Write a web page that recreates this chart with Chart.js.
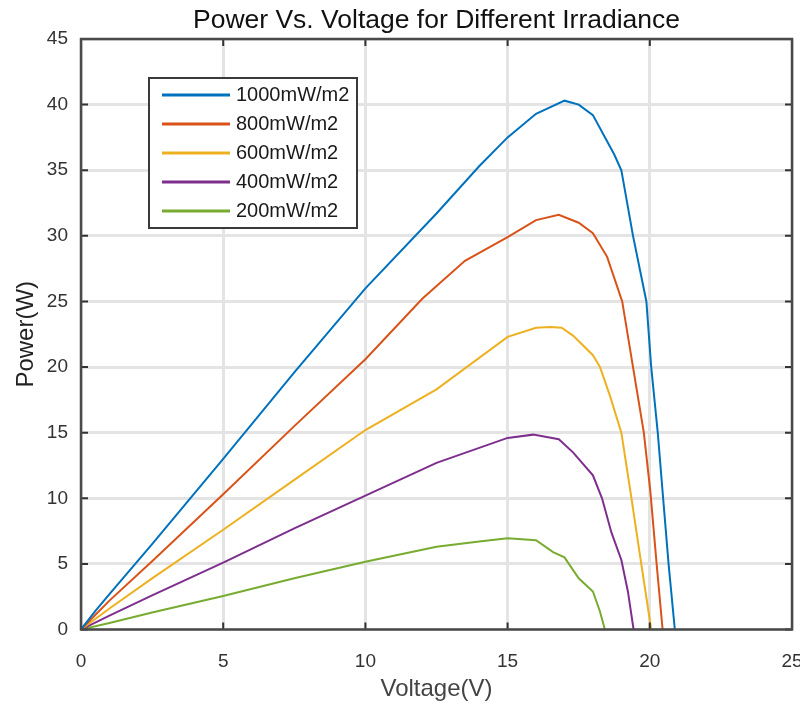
<!DOCTYPE html>
<html>
<head>
<meta charset="utf-8">
<script src="https://cdn.jsdelivr.net/npm/chart.js@4.4.0/dist/chart.umd.min.js"></script>
<style>
    html, body { margin: 0; padding: 0; background: #fff; }
    #wrap { width: 800px; height: 706px; }
</style>
</head>
<body>
<div id="wrap"><canvas id="pvChart" width="800" height="706"></canvas></div>
<script>
// Values (voltage in V, power in W)
const v1000 = [0, 0.5, 1, 2.5, 5, 7.5, 10, 12.5, 14, 15, 16, 17, 17.5, 18, 18.45, 18.75, 19, 19.41, 19.88, 20.05, 20.28, 20.45, 20.66, 20.88];
const p1000 = [0, 1.4, 2.7, 6.5, 13.0, 19.6, 26.0, 31.7, 35.3, 37.5, 39.3, 40.3, 40.0, 39.2, 37.4, 36.2, 35.0, 30.0, 25.0, 20.0, 15.0, 10.5, 5.0, 0];

const v800 = [0, 0.5, 1, 2.5, 5, 7.5, 10, 12, 13.5, 15, 16, 16.8, 17.5, 18, 18.5, 19.03, 19.41, 19.79, 20.02, 20.24, 20.45];
const p800 = [0, 1.1, 2.2, 5.2, 10.3, 15.5, 20.6, 25.2, 28.1, 29.9, 31.2, 31.6, 31.0, 30.2, 28.4, 25.0, 20.0, 15.0, 10.5, 5.0, 0];

const v600 = [0, 1, 2.5, 5, 7.5, 10, 12.5, 15, 16, 16.5, 16.9, 17.3, 18, 18.25, 18.6, 19, 19.32, 19.7, 20.05];
const p600 = [0, 1.6, 3.9, 7.6, 11.4, 15.2, 18.3, 22.3, 23.0, 23.05, 23.0, 22.4, 20.9, 20.0, 17.8, 15.0, 10.5, 5.0, 0];

const v400 = [0, 1, 2.5, 5, 7.5, 10, 12.5, 15, 15.9, 16.8, 17.3, 18, 18.32, 18.65, 19, 19.23, 19.43];
const p400 = [0, 1.05, 2.6, 5.1, 7.7, 10.2, 12.7, 14.6, 14.85, 14.5, 13.5, 11.75, 10.0, 7.4, 5.3, 2.9, 0];

const v200 = [0, 1, 2.5, 5, 7.5, 10, 12.5, 14, 15, 16, 16.6, 17, 17.5, 18, 18.25, 18.42];
const p200 = [0, 0.5, 1.3, 2.55, 3.9, 5.17, 6.3, 6.7, 6.95, 6.8, 5.9, 5.5, 3.9, 2.9, 1.35, 0];

const seriesLabels = ['1000mW/m2', '800mW/m2', '600mW/m2', '400mW/m2', '200mW/m2'];
const seriesColors = ['#0072BD', '#D95319', '#EDB120', '#7E2F8E', '#77AC30'];
const xTicks = [0, 5, 10, 15, 20, 25];
const yTicks = [0, 5, 10, 15, 20, 25, 30, 35, 40, 45];
const chartTitle = 'Power Vs. Voltage for Different Irradiance';

const voltages = [v1000, v800, v600, v400, v200];
const powers = [p1000, p800, p600, p400, p200];

const fontFamily = "'Liberation Sans', Arial, sans-serif";
const textColor = '#333333';

// Build datasets from the arrays
const datasets = seriesLabels.map((label, i) => ({
    label: label,
    data: voltages[i].map((v, k) => ({ x: v, y: powers[i][k] })),
    borderColor: seriesColors[i],
    backgroundColor: seriesColors[i],
    borderWidth: 2,
    fill: false,
    tension: 0,
    pointRadius: 0
}));

// Title, box, inward ticks and legend in MATLAB style
const matlabBox = {
    id: 'matlabBox',
    afterDatasetsDraw(chart) {
        const { ctx, chartArea: a, scales } = chart;
        const xs = scales.x, ys = scales.y;
        ctx.save();

        // title centred over the plot area
        ctx.fillStyle = '#111111';
        ctx.font = '26.5px ' + fontFamily;
        ctx.textAlign = 'center';
        ctx.textBaseline = 'middle';
        ctx.fillText(chartTitle, (a.left + a.right) / 2, 21);

        // tick marks pointing inward on all four sides
        ctx.strokeStyle = '#333333';
        ctx.lineWidth = 2;
        ctx.beginPath();
        xTicks.forEach(t => {
            const px = xs.getPixelForValue(t);
            ctx.moveTo(px, a.bottom); ctx.lineTo(px, a.bottom - 7);
            ctx.moveTo(px, a.top); ctx.lineTo(px, a.top + 7);
        });
        yTicks.forEach(t => {
            const py = ys.getPixelForValue(t);
            ctx.moveTo(a.left, py); ctx.lineTo(a.left + 7, py);
            ctx.moveTo(a.right, py); ctx.lineTo(a.right - 7, py);
        });
        ctx.stroke();

        // axes box
        ctx.strokeStyle = '#4a4a4a';
        ctx.lineWidth = 2.5;
        ctx.strokeRect(a.left, a.top, a.right - a.left, a.bottom - a.top);

        // legend
        const lx = 149, ly = 78, lw = 208, lh = 150;
        ctx.fillStyle = '#ffffff';
        ctx.fillRect(lx, ly, lw, lh);
        ctx.strokeStyle = '#3a3a3a';
        ctx.lineWidth = 2;
        ctx.strokeRect(lx, ly, lw, lh);
        ctx.font = '20px ' + fontFamily;
        ctx.textBaseline = 'middle';
        ctx.textAlign = 'left';
        seriesLabels.forEach((label, i) => {
            const rowY = ly + 17 + i * 29;
            ctx.strokeStyle = seriesColors[i];
            ctx.lineWidth = 3;
            ctx.beginPath();
            ctx.moveTo(lx + 13, rowY);
            ctx.lineTo(lx + 81, rowY);
            ctx.stroke();
            ctx.fillStyle = '#1a1a1a';
            ctx.fillText(label, lx + 87, rowY);
        });

        ctx.restore();
    }
};

const pvChart = new Chart(document.getElementById('pvChart').getContext('2d'), {
    type: 'line',
    data: { datasets: datasets },
    options: {
        responsive: false,
        animation: false,
        layout: { padding: { left: 0, right: 8, top: 39, bottom: 0 } },
        plugins: {
            legend: { display: false },
            tooltip: { enabled: false },
            title: { display: false }
        },
        scales: {
            x: {
                type: 'linear',
                min: 0,
                max: 25,
                afterBuildTicks: s => { s.ticks = xTicks.map(v => ({ value: v })); },
                afterFit: s => { s.height = 76.5; s.paddingLeft = 0; s.paddingRight = 0; },
                grid: { color: '#e4e4e4', lineWidth: 3, drawTicks: false },
                border: { display: false },
                ticks: {
                    color: textColor,
                    padding: 21,
                    maxRotation: 0,
                    font: { family: fontFamily, size: 19 }
                },
                title: {
                    display: true,
                    text: 'Voltage(V)',
                    color: '#444444',
                    font: { family: fontFamily, size: 24 },
                    padding: { top: 0, bottom: 2 }
                }
            },
            y: {
                type: 'linear',
                min: 0,
                max: 45,
                afterBuildTicks: s => { s.ticks = yTicks.map(v => ({ value: v })); },
                afterFit: s => { s.width = 81; s.paddingTop = 0; s.paddingBottom = 0; },
                grid: { color: '#e4e4e4', lineWidth: 3, drawTicks: false },
                border: { display: false },
                ticks: {
                    color: textColor,
                    padding: 13,
                    font: { family: fontFamily, size: 19 }
                },
                title: {
                    display: true,
                    text: 'Power(W)',
                    color: '#222222',
                    font: { family: fontFamily, size: 24 },
                    padding: { top: 12, bottom: 0 }
                }
            }
        }
    },
    plugins: [matlabBox]
});
</script>
</body>
</html>
